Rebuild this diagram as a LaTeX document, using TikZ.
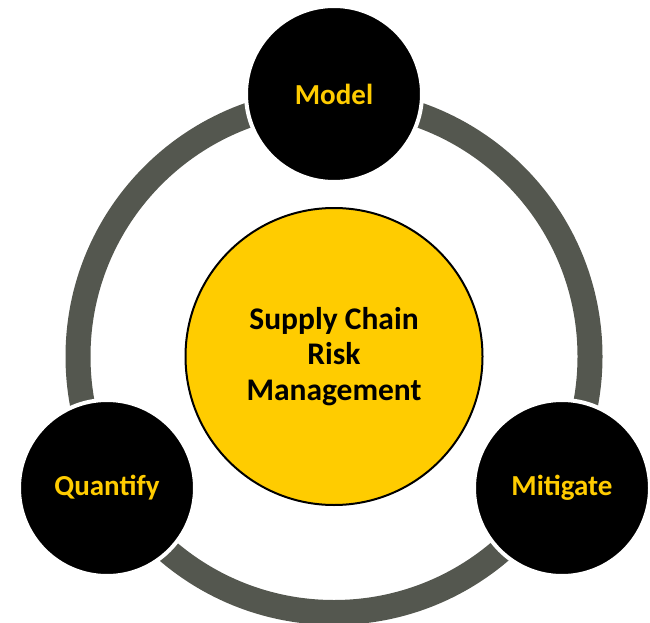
\documentclass[tikz,border=0pt]{standalone}
\usepackage{fontspec}
\setmainfont{Carlito}
\usepackage{tikz}

\definecolor{srmyellow}{HTML}{FFCC00}
\definecolor{ringgray}{HTML}{54574F}

\begin{document}
\begin{tikzpicture}[x=10pt,y=10pt]
\tikzstyle{every node}+=[inner sep=0pt]
\tikzstyle{stage}=[circle, fill=black, draw=white, line width=4pt, minimum size=176pt,
  text=srmyellow, font=\bfseries\fontsize{29}{35}\selectfont]
\tikzstyle{hubcircle}=[circle, fill=srmyellow, draw=black, line width=2pt, minimum size=297pt,
  align=center, font=\bfseries\fontsize{31.5}{35.5}\selectfont]
\useasboundingbox (0,0) rectangle (65,-62.3);
\coordinate (mid) at (33.4,-35.65);
\draw [ringgray, line width=25pt] (mid) circle (25.6);
\node [hubcircle] (hub) at (mid) {Supply Chain\\Risk\\Management};
\node [stage] (model) at (33.4,-9.4) {Model};
\node [stage] (quantify) at (10.7,-48.8) {Quantify};
\node [stage] (mitigate) at (56.2,-48.8) {Mitigate};
\end{tikzpicture}
\end{document}
